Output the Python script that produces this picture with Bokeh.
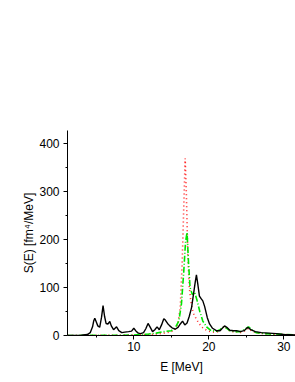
from bokeh.plotting import figure
from bokeh.models import Range1d, FixedTicker
from bokeh.embed import file_html
from bokeh.resources import INLINE

# Black solid curve (E in MeV, S in fm^4/MeV)
black_E = [1.2, 3.0, 3.8, 4.2, 4.5, 4.65, 4.8, 5.0, 5.2, 5.45, 5.7, 5.9, 6.1, 6.3, 6.55, 6.8, 7.0,
           7.3, 7.7, 8.0, 8.4, 8.8, 9.3, 9.7, 10.0, 10.3, 10.6, 10.9, 11.3, 11.6, 11.9, 12.2, 12.5,
           12.8, 13.1, 13.4, 13.7, 14.0, 14.2, 14.5, 14.8, 15.1, 15.5, 15.9, 16.2, 16.5, 16.8,
           17.1, 17.4, 17.7, 18.0, 18.2, 18.35, 18.55, 18.75, 19.0, 19.2, 19.45, 19.8, 20.1,
           20.5, 21.0, 21.5, 21.8, 22.1, 22.4, 22.8, 23.3, 23.7, 24.2, 24.7, 25.2, 25.6, 26.2,
           27.0, 28.0, 29.0, 30.0, 31.6]
black_S = [0, 0.5, 2, 6, 18, 30, 36, 28, 20, 17, 38, 62, 40, 25, 24, 29, 20,
           12, 18, 10, 6, 7, 8, 9, 15, 9, 5, 4, 6, 14, 25, 17, 8,
           12, 18, 12, 22, 35, 32, 25, 20, 16, 13, 17, 24, 30, 22,
           26, 40, 58, 90, 112, 126, 105, 82, 76, 72, 60, 37, 24,
           15, 10, 10, 15, 20, 17, 11, 10, 10, 8, 10, 17, 12, 8,
           6, 5, 4, 2, 1]

# Red dotted curve
red_E = [1.2, 8.0, 10.0, 12.0, 13.0, 14.0, 14.5, 15.0, 15.5, 15.9, 16.2, 16.45, 16.65, 16.85,
         17.0, 17.2, 17.4, 17.6, 17.8, 18.0, 18.3, 18.7, 19.2, 19.8, 20.5, 21.2, 21.8, 22.1,
         22.5, 23.0, 23.6, 24.2, 24.8, 25.3, 25.8, 26.5, 28.0, 30.0, 31.6]
red_S = [0, 0.5, 1, 2, 3, 5, 6, 8, 12, 25, 60, 150, 260, 368,
         300, 170, 100, 72, 55, 45, 35, 25, 16, 10, 7, 8, 15, 20,
         12, 8, 8, 6, 10, 15, 8, 5, 3, 2, 1]

# Green dash-dot curve
green_E = [1.2, 8.0, 10.0, 12.0, 13.0, 14.0, 15.0, 15.5, 16.0, 16.35, 16.65, 16.9, 17.1, 17.3,
           17.5, 17.8, 18.1, 18.4, 18.8, 19.2, 19.7, 20.3, 21.0, 21.5, 22.0, 22.3, 22.8, 23.5,
           24.2, 24.8, 25.3, 25.7, 26.3, 27.5, 29.0, 31.6]
green_S = [0, 0.5, 1, 3, 5, 8, 10, 15, 30, 65, 130, 195, 214, 150,
           100, 85, 90, 75, 50, 30, 18, 10, 9, 12, 18, 16, 10, 8,
           8, 13, 18, 12, 6, 4, 3, 1]

x_ticks = [10, 20, 30]
y_ticks = [0, 100, 200, 300, 400]

p = figure(width=295, height=379, output_backend="svg", toolbar_location=None,
           x_range=Range1d(1.16, 31.56), y_range=Range1d(0, 426),
           min_border_left=67, min_border_right=0, min_border_top=130, min_border_bottom=44)
p.outline_line_color = None
p.xgrid.visible = False
p.ygrid.visible = False
p.background_fill_color = "white"
p.border_fill_color = "white"

p.line(red_E, red_S, line_color="#ff2020", line_width=1.6, line_dash="1 3")
p.line(green_E, green_S, line_color="#00e600", line_width=1.6, line_dash="6 2 1 2")
p.line(black_E, black_S, line_color="black", line_width=1.4)

for ax in (p.xaxis[0], p.yaxis[0]):
    ax.axis_line_color = "black"
    ax.axis_line_width = 1
    ax.major_tick_out = 4
    ax.major_tick_in = 0
    ax.minor_tick_out = 2
    ax.minor_tick_in = 0
    ax.major_label_text_font = "Liberation Sans"
    ax.major_label_text_font_size = "12px"
    ax.major_label_text_color = "black"
    ax.axis_label_text_font = "Liberation Sans"
    ax.axis_label_text_font_size = "12px"
    ax.axis_label_text_font_style = "normal"
    ax.axis_label_text_color = "black"

p.xaxis[0].ticker = FixedTicker(ticks=x_ticks, minor_ticks=[5, 15, 25])
p.yaxis[0].ticker = FixedTicker(ticks=y_ticks, minor_ticks=[50, 150, 250, 350])
p.xaxis.axis_label = "E [MeV]"
p.yaxis.axis_label = "S(E) [fm\u2074/MeV]"
p.xaxis.axis_label_standoff = 6
p.yaxis.axis_label_standoff = 0
p.xaxis.major_label_standoff = 2
p.yaxis.major_label_standoff = 4

open("out.html", "w").write(file_html(p, INLINE))
